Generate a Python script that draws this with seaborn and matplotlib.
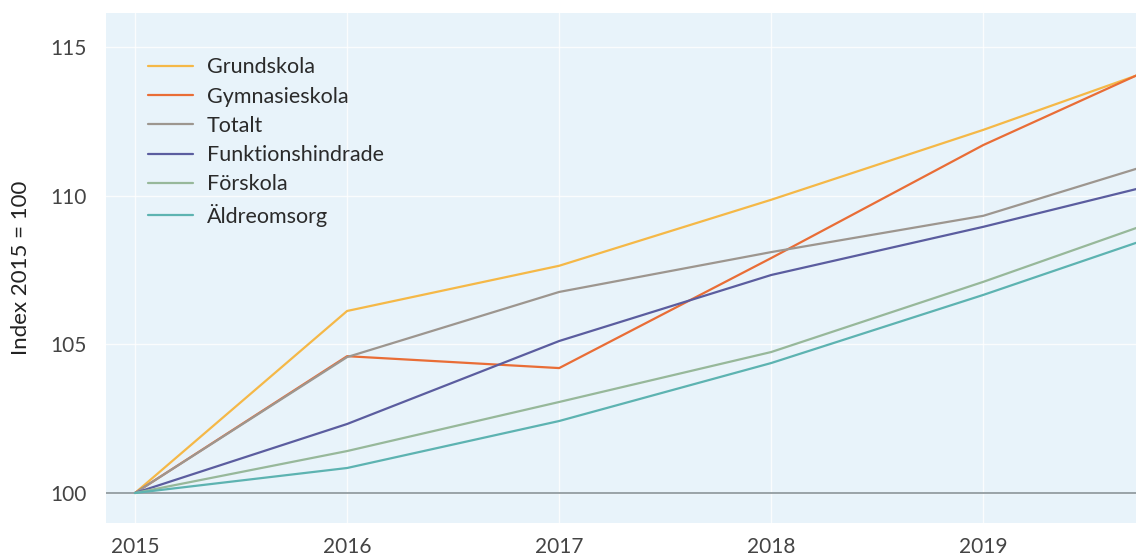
import pandas as pd
import seaborn as sns
import matplotlib.pyplot as plt

# Index values (2015 = 100)
years = [2015, 2016, 2017, 2018, 2019, 2020]
grundskola = [100, 106.12, 107.64, 109.86, 112.21, 114.74]
gymnasieskola = [100, 104.6, 104.2, 107.9, 111.7, 114.94]
totalt = [100, 104.57, 106.76, 108.1, 109.32, 111.51]
funktionshindrade = [100, 102.32, 105.11, 107.33, 108.95, 110.71]
forskola = [100, 101.41, 103.06, 104.74, 107.1, 109.61]
aldreomsorg = [100, 100.84, 102.42, 104.37, 106.66, 109.09]

series = {
    'Grundskola': grundskola,
    'Gymnasieskola': gymnasieskola,
    'Totalt': totalt,
    'Funktionshindrade': funktionshindrade,
    'Förskola': forskola,
    'Äldreomsorg': aldreomsorg,
}
colors = ['#f5b847', '#e96d36', '#9d968f', '#5b5d9f', '#97b89a', '#5db3b1']

rows = []
for name, vals in series.items():
    for y, v in zip(years, vals):
        rows.append({'year': y, 'index': v, 'serie': name})
df = pd.DataFrame(rows)

sns.set_style('white')
plt.rcParams['font.family'] = ['Lato', 'DejaVu Sans']

fig = plt.figure(figsize=(11.36, 5.57), dpi=100)
ax = fig.add_axes([0.0933, 0.061, 0.9067, 0.9157])
ax.set_facecolor('#e8f3fa')

sns.lineplot(data=df, x='year', y='index', hue='serie', palette=colors,
             linewidth=1.6, ax=ax)
ax.axhline(100, color='#8a9499', linewidth=1.2, zorder=1)

ax.set_xlim(2014.863, 2019.72)
ax.set_ylim(98.99, 116.14)
ax.set_xticks([2015, 2016, 2017, 2018, 2019])
ax.set_yticks([100, 105, 110, 115])
ax.grid(True, color='white', linewidth=1.0, alpha=0.8)
ax.set_axisbelow(True)
for s in ax.spines.values():
    s.set_visible(False)
ax.tick_params(length=0, labelsize=15, colors='#444444', pad=14)
ax.tick_params(axis='x', pad=10)
ax.set_xlabel('')
ax.set_ylabel('Index 2015 = 100', fontsize=16, color='#222222', labelpad=14)

leg = ax.legend(loc='upper left', bbox_to_anchor=(0.032, 0.93), frameon=False,
                fontsize=15.5, handlelength=2.1, handletextpad=0.65,
                labelspacing=0.43, borderaxespad=0)
for t in leg.get_texts():
    t.set_color('#2a2a2a')

fig.savefig('out.png', dpi=100)
